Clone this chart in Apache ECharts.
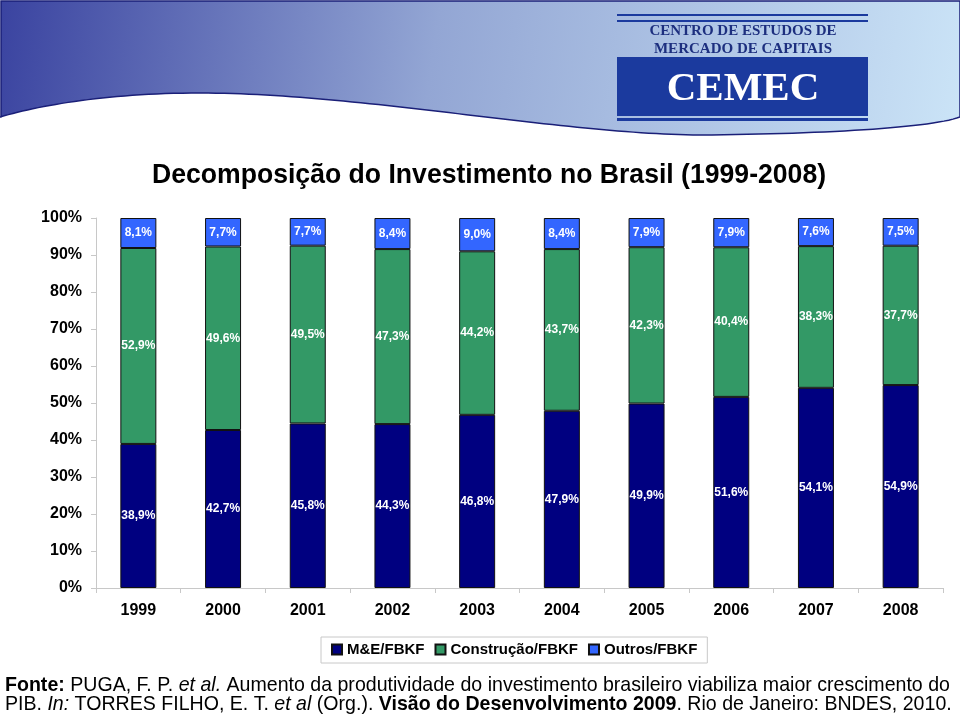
<!DOCTYPE html>
<html>
<head>
<meta charset="utf-8">
<script src="https://cdn.jsdelivr.net/npm/echarts@6/dist/echarts.min.js"></script>
<style>
html,body{margin:0;padding:0;background:#fff;}
#chart{width:960px;height:715px;}
</style>
</head>
<body>
<div id="chart"></div>
<script>
// ---- data ----
const years = ['1999','2000','2001','2002','2003','2004','2005','2006','2007','2008'];
const meFBKF = [38.9, 42.7, 45.8, 44.3, 46.8, 47.9, 49.9, 51.6, 54.1, 54.9];
const construcaoFBKF = [52.9, 49.6, 49.5, 47.3, 44.2, 43.7, 42.3, 40.4, 38.3, 37.7];
const outrosFBKF = [8.1, 7.7, 7.7, 8.4, 9.0, 8.4, 7.9, 7.9, 7.6, 7.5];
const seriesNames = ['M&E/FBKF', 'Construção/FBKF', 'Outros/FBKF'];
const yTickLabels = ['0%','10%','20%','30%','40%','50%','60%','70%','80%','90%','100%'];

const raw = [meFBKF, construcaoFBKF, outrosFBKF];
const totals = years.map((_, i) => raw.reduce((s, arr) => s + arr[i], 0));
const shares = raw.map(arr => arr.map((v, i) => v / totals[i] * 100));
const fmt = v => v.toFixed(1).replace('.', ',') + '%';

const colors = ['#000080', '#339966', '#3366FF'];
const FONT = 'Arial, "Liberation Sans", Helvetica, sans-serif';
const SERIF = '"Liberation Serif", "Times New Roman", serif';

// decorative header wave outline (cubic segments)
function cubic(p0, p1, p2, p3, n) {
  const pts = [];
  for (let i = 0; i <= n; i++) {
    const t = i / n, u = 1 - t;
    pts.push([
      u*u*u*p0[0] + 3*u*u*t*p1[0] + 3*u*t*t*p2[0] + t*t*t*p3[0],
      u*u*u*p0[1] + 3*u*u*t*p1[1] + 3*u*t*t*p2[1] + t*t*t*p3[1]
    ]);
  }
  return pts;
}
const wave = [].concat(
  cubic([960,117],[930,128],[820,134],[700,135],30),
  cubic([700,135],[560,134],[360,93],[200,93],60).slice(1),
  cubic([200,93],[110,93],[40,105],[0,117],30).slice(1)
);
const headerPts = [[1,1],[960,1]].concat(wave).concat([[1,117]]);

const chart = echarts.init(document.getElementById('chart'), null, {renderer: 'canvas'});

const series = raw.map((arr, k) => ({
  name: seriesNames[k],
  type: 'bar',
  stack: 'total',
  barWidth: 36,
  data: shares[k],
  itemStyle: {color: colors[k], borderColor: '#111', borderWidth: 1},
  label: {
    show: true,
    position: 'inside',
    color: '#fff',
    fontFamily: FONT,
    fontWeight: 'bold',
    fontSize: 12,
    formatter: p => fmt(raw[k][p.dataIndex])
  },
  emphasis: {disabled: true}
}));

const footRich = {
  b: {fontWeight: 'bold', fontSize: 21, fontFamily: FONT, fill: '#000'},
  i: {fontStyle: 'italic', fontSize: 21, fontFamily: FONT, fill: '#000'}
};

chart.setOption({
  animation: false,
  backgroundColor: '#fff',
  textStyle: {fontFamily: FONT},
  grid: {left: 96, right: 17, top: 218, bottom: 127, containLabel: false},
  xAxis: {
    type: 'category',
    data: years,
    axisLine: {show: true, lineStyle: {color: '#c8c8c8', width: 1}},
    axisTick: {show: true, alignWithLabel: false, length: 5, lineStyle: {color: '#c8c8c8'}},
    axisLabel: {color: '#000', fontSize: 16, fontWeight: 'bold', fontFamily: FONT, margin: 15}
  },
  yAxis: {
    type: 'value',
    min: 0, max: 100, interval: 10,
    splitLine: {show: false},
    axisLine: {show: true, lineStyle: {color: '#c8c8c8', width: 1}},
    axisTick: {show: true, length: 5, lineStyle: {color: '#c8c8c8'}},
    axisLabel: {
      color: '#000', fontSize: 16, fontWeight: 'bold', fontFamily: FONT, margin: 14,
      formatter: v => yTickLabels[Math.round(v / 10)]
    }
  },
  legend: {
    data: seriesNames,
    left: 321, top: 637,
    padding: [5, 10, 6, 10],
    borderColor: '#c8c8c8', borderWidth: 1,
    backgroundColor: '#fff',
    icon: 'rect',
    itemWidth: 10, itemHeight: 10, itemGap: 10,
    textStyle: {color: '#000', fontSize: 15, fontWeight: 'bold', fontFamily: FONT},
    selectedMode: false
  },
  series: series,
  graphic: [
    {
      type: 'polygon', z: 0,
      shape: {points: headerPts},
      style: {
        fill: {type: 'linear', x: 0, y: 0, x2: 1, y2: 1, colorStops: [
          {offset: 0, color: '#3a43a0'}, {offset: 0.45, color: '#93a6d4'}, {offset: 1, color: '#cbe4f7'}
        ]},
        stroke: '#1a1f78', lineWidth: 1.5
      }
    },
    // logo
    {type: 'rect', shape: {x: 617, y: 14, width: 251, height: 2}, style: {fill: '#1b3a9e'}},
    {type: 'rect', shape: {x: 617, y: 20, width: 251, height: 2}, style: {fill: '#1b3a9e'}},
    {type: 'text', style: {text: 'CENTRO DE ESTUDOS DE', x: 743, y: 31, align: 'center', verticalAlign: 'middle',
      fill: '#1d2f7f', font: 'bold 15px ' + SERIF}},
    {type: 'text', style: {text: 'MERCADO DE CAPITAIS', x: 743, y: 49, align: 'center', verticalAlign: 'middle',
      fill: '#1d2f7f', font: 'bold 15px ' + SERIF}},
    {type: 'rect', shape: {x: 617, y: 57, width: 251, height: 59}, style: {fill: '#1b3a9e'}},
    {type: 'text', style: {text: 'CEMEC', x: 743, y: 89, align: 'center', verticalAlign: 'middle',
      fill: '#fff', font: 'bold 41px ' + SERIF}},
    {type: 'rect', shape: {x: 617, y: 118, width: 251, height: 3}, style: {fill: '#1b3a9e'}},
    // title
    {type: 'text', x: 489, y: 175, scaleX: 0.95,
      style: {text: 'Decomposição do Investimento no Brasil (1999-2008)', x: 0, y: 0,
      align: 'center', verticalAlign: 'middle', fill: '#000', font: 'bold 28px ' + FONT}},
    // footer
    {type: 'text', x: 5, y: 685, scaleX: 0.932, style: {
      x: 0, y: 0, verticalAlign: 'middle', align: 'left', fill: '#000',
      text: '{b|Fonte:} PUGA, F. P. {i|et al.} Aumento da produtividade do investimento brasileiro viabiliza maior crescimento do',
      font: '21px ' + FONT, rich: footRich
    }},
    {type: 'text', x: 5, y: 704, scaleX: 0.932, style: {
      x: 0, y: 0, verticalAlign: 'middle', align: 'left', fill: '#000',
      text: 'PIB. {i|In:} TORRES FILHO, E. T. {i|et al} (Org.). {b|Visão do Desenvolvimento 2009}. Rio de Janeiro: BNDES, 2010.',
      font: '21px ' + FONT, rich: footRich
    }}
  ]
});
</script>
</body>
</html>
